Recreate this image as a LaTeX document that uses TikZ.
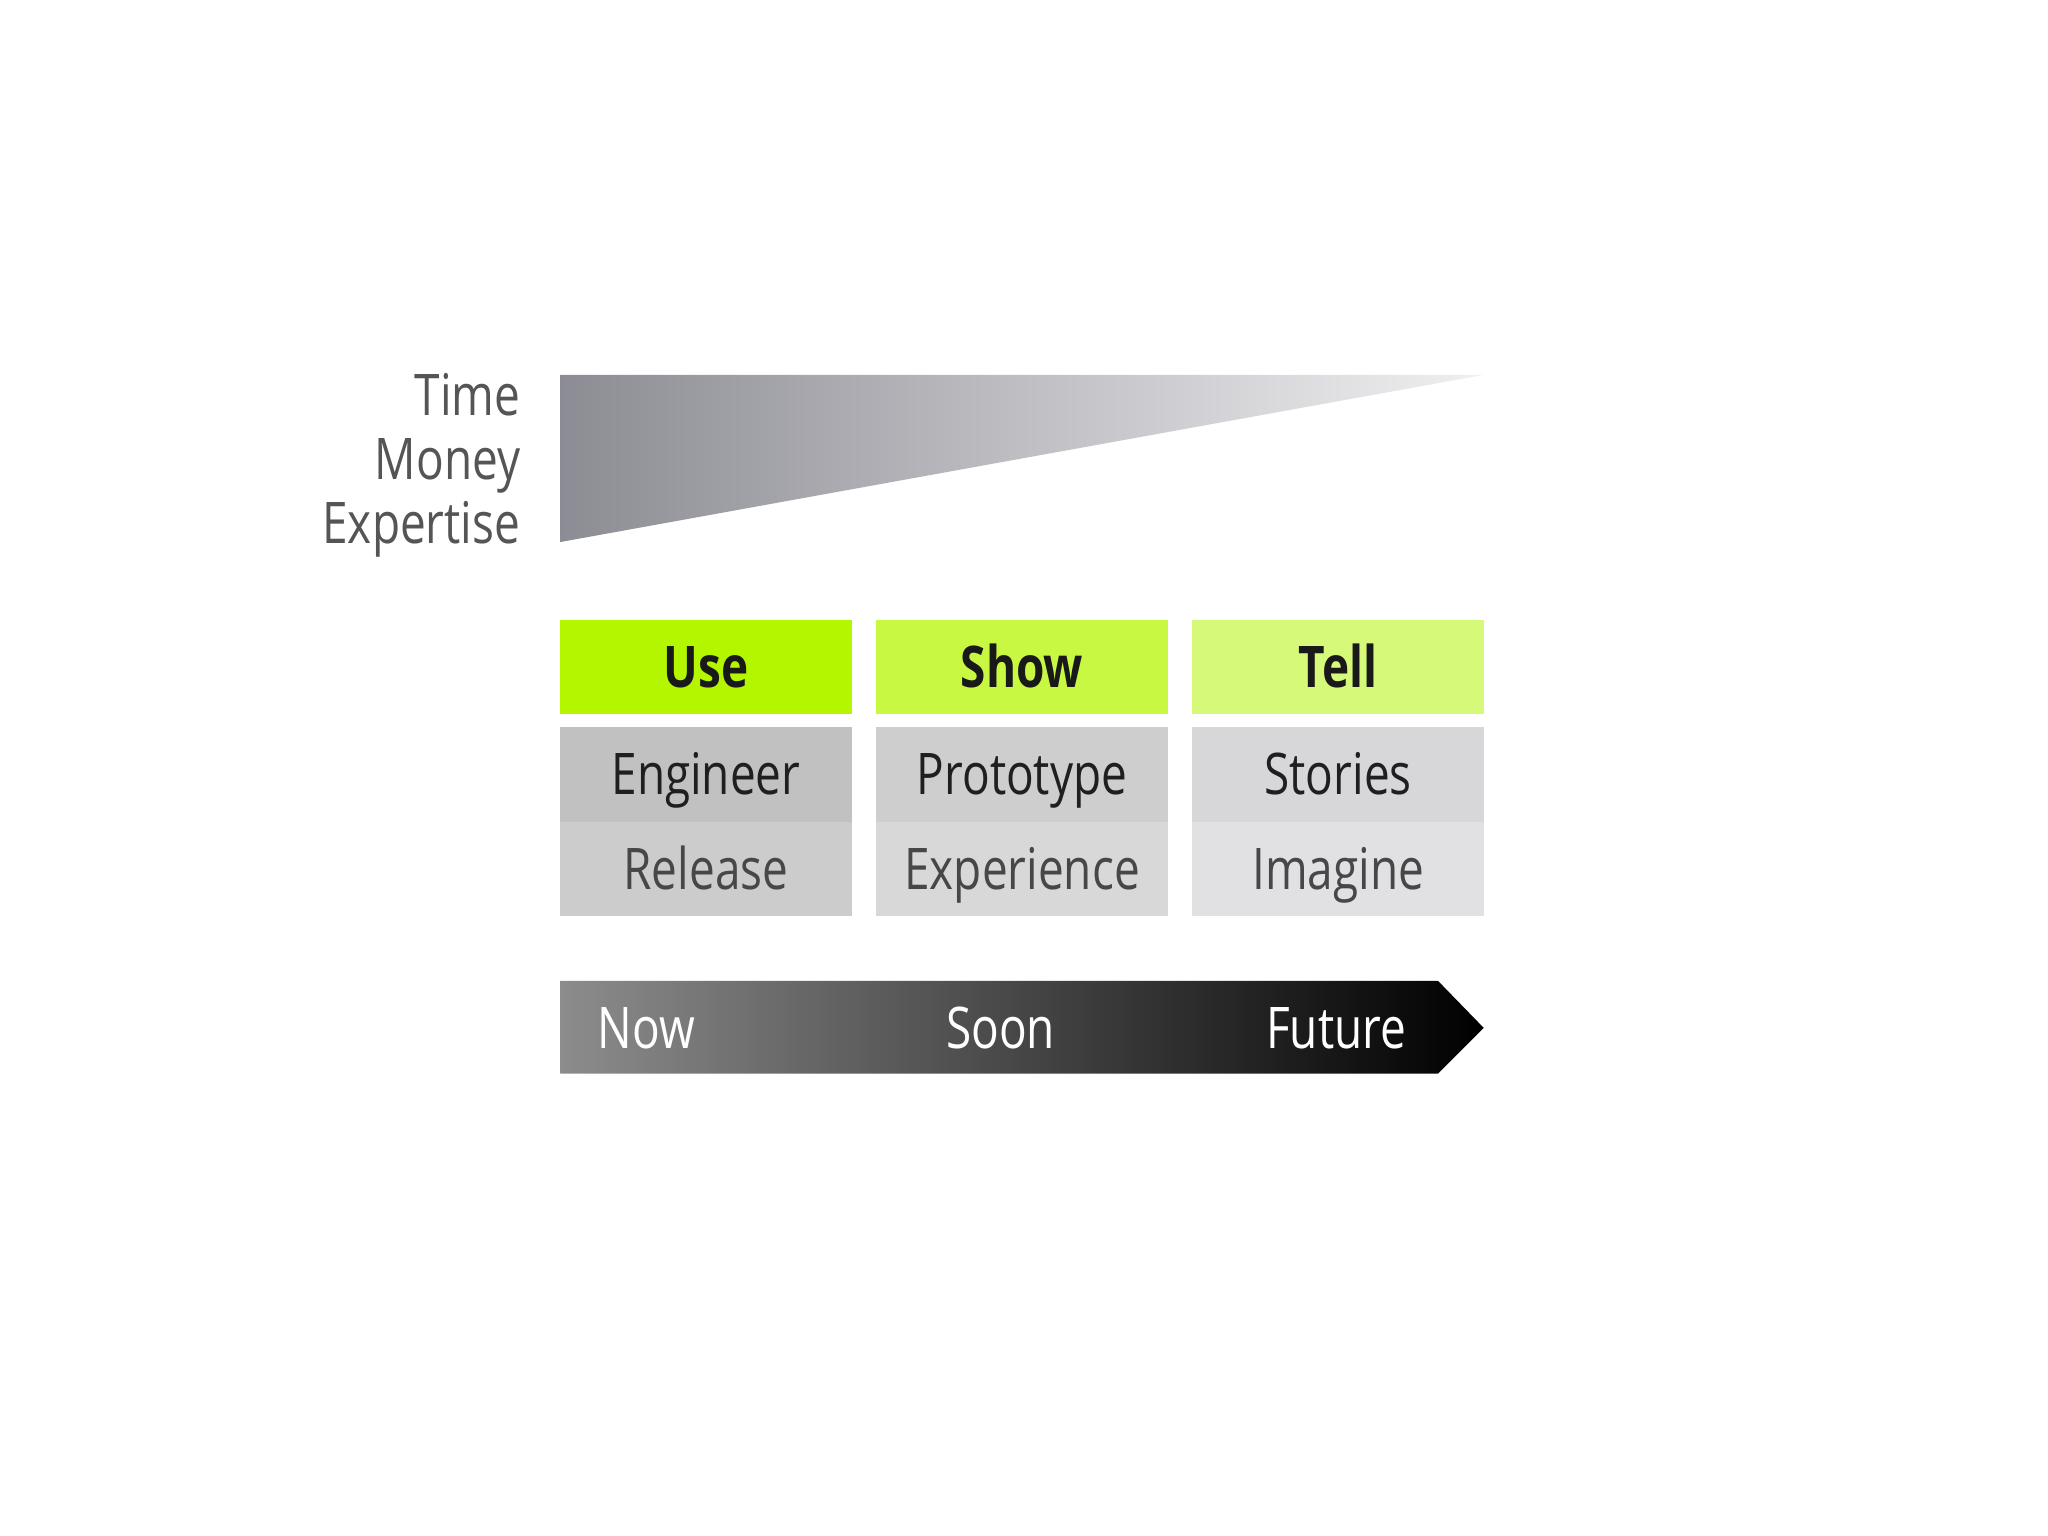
\documentclass[tikz,border=0pt]{standalone}
\usepackage{fontspec}
\setmainfont{Open Sans}[FakeStretch=0.8]
\usetikzlibrary{positioning}
\definecolor{useg}{RGB}{180,246,0}
\definecolor{showg}{RGB}{200,248,66}
\definecolor{tellg}{RGB}{214,249,122}
\definecolor{engc}{RGB}{193,193,193}
\definecolor{relc}{RGB}{204,204,204}
\definecolor{proc}{RGB}{206,206,206}
\definecolor{expc}{RGB}{216,216,216}
\definecolor{stoc}{RGB}{215,215,217}
\definecolor{imac}{RGB}{225,225,227}
\definecolor{labc}{RGB}{85,85,85}
\definecolor{tril}{RGB}{140,140,148}
\definecolor{trir}{RGB}{240,240,242}
\definecolor{arrl}{RGB}{140,140,140}
\tikzset{
  txt/.style={font=\fontsize{12.5}{14}\selectfont, inner sep=0pt},
  capfix/.style={text height=8.9pt, text depth=0pt},
  greenbox/.style={txt, capfix, font=\fontsize{12.5}{14}\selectfont\bfseries, text=black!90, minimum width=2.23cm, minimum height=0.72cm},
  graybox/.style={txt, capfix, minimum width=2.23cm, minimum height=0.72cm},
  toptext/.style={text=black!88},
  bottext/.style={text=black!72},
  sidelab/.style={txt, text=labc, anchor=base east},
  arrlab/.style={txt, capfix, text=white}
}
\begin{document}
\begin{tikzpicture}[x=0.01cm,y=-0.01cm]
\useasboundingbox (0,0) rectangle (1568,1176);
\fill[white] (0,0) rectangle (1568,1176);
% triangle
\shade[left color=tril, right color=trir] (429,287) -- (1136,287) -- (429,415) -- cycle;
\node[sidelab] (time) at (399,318) {Time};
\node[sidelab] (money) at (399,367) {Money};
\node[sidelab] (expertise) at (399,416) {Expertise};
% green headers
\node[greenbox, fill=useg] (use) at (540.5,511) {Use};
\node[greenbox, fill=showg] (show) at (782.5,511) {Show};
\node[greenbox, fill=tellg] (tell) at (1024.5,511) {Tell};
% gray boxes
\node[graybox, toptext, fill=engc] (engineer) at (540.5,593) {Engineer};
\node[graybox, bottext, fill=relc] (release) at (540.5,665) {Release};
\node[graybox, toptext, fill=proc] (prototype) at (782.5,593) {Prototype};
\node[graybox, bottext, fill=expc] (experience) at (782.5,665) {Experience};
\node[graybox, toptext, fill=stoc] (stories) at (1024.5,593) {Stories};
\node[graybox, bottext, fill=imac] (imagine) at (1024.5,665) {Imagine};
% arrow
\shade[left color=arrl, right color=black] (429,751) -- (1101,751) -- (1136,787) -- (1101,822) -- (429,822) -- cycle;
\node[arrlab] (now) at (495,787) {Now};
\node[arrlab] (soon) at (766,787) {Soon};
\node[arrlab] (future) at (1023,787) {Future};
\end{tikzpicture}
\end{document}
